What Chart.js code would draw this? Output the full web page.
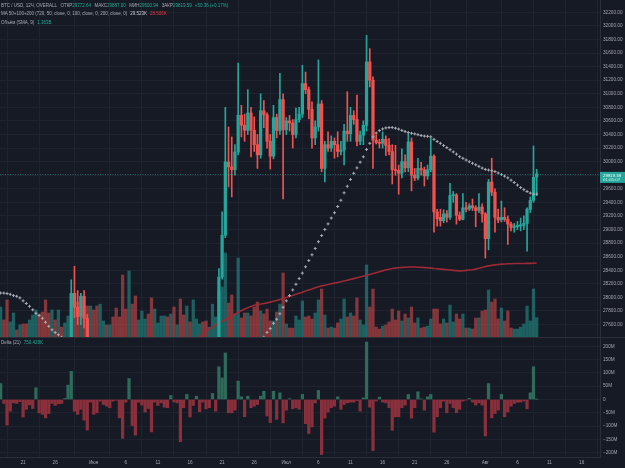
<!DOCTYPE html>
<html>
<head>
<meta charset="utf-8">
<script src="https://cdn.jsdelivr.net/npm/chart.js@4.4.0/dist/chart.umd.min.js"></script>
<style>
  html, body { margin: 0; padding: 0; background: #161a25; }
  #wrap { position: relative; width: 625px; height: 468px; overflow: hidden; }
  canvas { display: block; }
  .lg { position: absolute; left: 1px; font-family: "Liberation Sans", Arial, sans-serif; font-size: 4.5px; line-height: 6px; color: #a8abb4; white-space: nowrap; }
  .lg .k { margin-left: 3.4px; }
  .lg .s { margin-left: 3px; }
  .g { color: #22ab94; }
  .r { color: #f23645; }
  .w { color: #c9ccd4; }
</style>
</head>
<body>
<div id="wrap">
  <canvas id="btcChart" width="625" height="468"></canvas>
  <div class="lg" style="top:2.6px">BTC / USD, 12Ч, OVERALL<span class="k">ОТКР</span><span class="g" id="vO"></span><span class="k">МАКС</span><span class="g" id="vH"></span><span class="k">МИН</span><span class="g" id="vL"></span><span class="k">ЗАКР</span><span class="g" id="vC"></span><span class="g s" id="vChg"></span></div>
  <div class="lg" style="top:11.2px">MA 50+100+200 (720, 50, close, 0, 100, close, 0, 200, close, 0)<span class="w s" id="vMa50"></span><span class="r s" id="vMa200"></span></div>
  <div class="lg" style="top:19.8px">Объём (SMA, 9)<span class="g s" id="vVol"></span></div>
  <div class="lg" style="top:340px">Delta (21)<span class="g s" id="vDelta"></span></div>
</div>
<script>
// 12h candles, 17 May 12:00 .. 9 Aug 00:00
const opens = [
  27100,27390,27300,26830,26900,26950,26920,27120,27050,26750,
  26800,26850,27250,27225,26700,26330,26100,26470,26400,26720,
  26700,26870,27200,28060,27855,27720,28017,27692,27100,27220,
  26900,26820,27000,27250,27050,27100,27200,27120,26800,25760,
  25500,27240,26800,26350,26450,26500,26600,26480,25700,25850,
  25900,25940,25960,25900,26050,25920,26000,25120,24900,25580,
  25450,26340,26450,26510,26450,26340,26500,26850,27000,28300,
  28915,29995,29922,29883,30143,30683,30536,30462,30717,30462,
  30250,30100,30750,30690,30300,30080,30650,30460,30914,30470,
  30600,30570,30400,30620,30700,31150,31060,30770,30350,30510,
  30850,29900,30250,30200,30300,30250,30150,30170,30450,30410,
  30680,30620,30300,30390,30536,31469,31199,30315,30280,30270,
  30330,30240,30150,29880,29870,29830,30000,29910,30290,29800,
  29760,29900,29880,29790,29880,30080,29259,29180,29130,29230,
  29180,29500,29510,29210,29150,29320,29300,29350,29320,29280,
  29330,29230,28866,29700,29550,29180,29140,29180,29150,29080,
  29030,29040,29050,29060,29090,29300,29430,29772.64
];
const highs = [
  27400,27400,27350,27050,27100,27000,27250,27250,27100,26900,
  26950,27300,27380,27260,26780,26400,26550,26600,26800,26800,
  26950,27300,28260,28459,28100,28060,28100,27750,27300,27250,
  27000,27100,27300,27300,27200,27200,27300,27150,26850,25900,
  27350,27300,26850,26500,26700,26750,26650,26500,25900,26000,
  26150,26100,26050,26200,26400,26100,26050,25250,25700,25700,
  26450,26700,26650,26600,26550,26550,26950,27100,28425,29260,
  30800,30511,30364,30250,31450,30830,30700,31060,30800,30660,
  30400,31000,30900,30720,30400,30830,30700,31300,31000,30650,
  30680,30620,30790,30800,31420,31320,31100,30880,30600,31500,
  30900,30300,30440,30380,30350,30440,30300,30550,31030,30800,
  30750,30980,30450,30600,31860,31665,31250,30390,30330,30440,
  30380,30340,30250,30240,29950,30190,30100,30410,30350,29900,
  30050,29990,29920,29950,30340,30100,29300,29300,29290,29280,
  29680,29560,29530,29260,29530,29400,29380,29450,29350,29530,
  29380,29250,29740,30050,29600,29300,29420,29320,29200,29110,
  29090,29120,29170,29200,29320,29480,30230,29887
];
const lows = [
  27050,27150,26700,26750,26850,26800,26880,26950,26600,26650,
  26700,26800,27100,26600,26250,25870,26050,26300,26350,26600,
  26650,26850,27150,27700,27600,27600,27550,26950,26900,26700,
  26620,26780,26950,27000,27000,26950,27000,26700,25650,25400,
  25450,26700,26150,26250,26350,26400,26300,25400,25550,25700,
  25800,25850,25700,25850,25800,25850,24900,24800,24850,25350,
  25400,26300,26400,26350,26250,26300,26450,26700,26950,28270,
  28880,29627,29480,29800,30100,30364,30300,30400,30070,30150,
  29900,30050,30500,30200,29890,30040,30350,30400,29450,30400,
  30450,30200,30350,30580,30650,31000,30630,30200,30250,30450,
  29850,29700,30150,30150,30050,30070,30100,29950,30300,30300,
  30550,30230,30250,30250,30450,31100,29900,30260,30200,30200,
  30090,30100,29670,29800,29520,29760,29850,29850,29570,29720,
  29730,29800,29640,29740,29850,28960,29050,29050,29100,29110,
  29150,29400,29080,29130,29140,29260,29280,29280,29040,29250,
  29110,28580,28700,29500,28960,29100,29110,29120,28780,28980,
  28960,29000,28980,29000,28680,29250,29400,29500.94
];
const closes = [
  27390,27300,26830,26900,26950,26920,27120,27050,26750,26800,
  26850,27250,27225,26700,26330,26100,26470,26400,26720,26700,
  26870,27200,28060,27855,27720,28017,27692,27100,27220,26800,
  26820,27000,27250,27100,27100,27050,27120,26800,25760,25500,
  27240,26800,26350,26450,26500,26600,26480,25700,25850,25900,
  25940,25960,25900,26050,25920,26000,25120,24900,25580,25450,
  26340,26600,26510,26450,26340,26500,26850,27000,28300,28915,
  29995,29922,29883,30143,30683,30536,30462,30717,30462,30250,
  30100,30750,30690,30300,30080,30650,30460,30914,30470,30600,
  30570,30400,30620,30700,31150,31060,30770,30350,30510,30850,
  29900,30250,30200,30300,30250,30150,30170,30450,30410,30680,
  30620,30300,30390,30536,31469,31199,30315,30280,30270,30330,
  30240,30150,29880,29870,29830,30000,29910,30290,29800,29760,
  29900,29880,29790,29880,30080,29259,29160,29130,29230,29180,
  29500,29510,29210,29150,29320,29300,29350,29320,29280,29330,
  29230,28866,29700,29550,29180,29140,29180,29150,29080,29030,
  29050,29060,29070,29090,29300,29430,29769.23,29819.59
];
// volume, billions
const volumes = [
  2.11,1.20,2.61,1.06,1.69,0.49,0.85,0.92,0.92,1.20,
  1.55,1.90,1.62,1.76,2.61,1.69,1.90,1.20,1.90,0.70,
  0.99,1.48,3.03,3.03,2.46,2.89,2.18,2.18,2.18,1.90,
  2.18,2.32,1.13,0.85,0.85,1.41,2.04,1.41,4.37,1.97,
  4.65,2.32,2.89,1.20,1.83,1.27,1.62,2.75,1.97,0.99,
  1.48,1.48,1.41,1.62,2.11,0.85,2.68,1.55,2.18,1.06,
  2.61,1.27,0.92,1.06,1.13,0.70,2.32,1.41,3.24,3.52,
  5.92,2.39,2.96,1.62,5.56,1.34,1.69,1.69,1.48,2.11,
  2.46,1.83,1.62,1.97,1.13,1.13,1.76,2.32,4.51,0.92,
  0.63,0.63,1.48,1.20,2.54,1.41,1.48,1.27,1.69,2.61,
  3.38,1.55,0.63,0.70,0.63,0.99,1.27,2.68,1.41,1.69,
  1.48,2.75,1.20,0.85,5.07,2.11,3.38,0.70,0.56,0.77,
  0.85,1.06,1.97,1.20,1.83,1.13,1.62,1.34,2.11,0.99,
  1.34,0.63,0.70,0.77,1.27,1.97,1.97,0.92,1.27,0.99,
  2.25,1.06,1.62,1.27,1.62,0.63,0.63,0.56,1.34,1.34,
  1.83,1.90,3.31,2.46,2.68,1.27,2.04,1.13,1.83,0.63,
  0.56,0.56,0.70,0.92,2.18,1.13,3.38,1.363
];
// delta, millions
const deltas = [
  60,-15,-96,-44,-12.5,-15,-8,-66,-37,-20,
  -34,44,-50,-56,-69,-53,-15,-22.5,-16,-15,
  4,54,106,-44,-56,-37,-78,-115,-10,-56,
  -50,-6,-19,-25,-31,-6,-3,-69,-146,-10,
  79,-98,-134,-10,-21,-47,-34,-122,-10,-22.5,
  -12.5,-29,-31,15,-9,-12.5,-159,-31,19,-66,
  -22.5,12.5,-46,-10,-35,-31,22.5,-44,123,81,
  175,-50,-50,-40,69,10,-65,12.5,-31,-25,
  -19,12.5,31,-62,-87,31,-75,25,-88,-40,
  3,-35,-31,-37,19,-91,-128,-103,-12.5,34,
  -207,-70,-47,-31,-25,10,-37,-19,-12.5,-10,
  -10,-4,-44,6,216,-29,-192,-6,9,-10,
  -12.5,-31,-116,-65,-65,-31,-21,19,-70,-31,
  29,2.5,-40,10,19,-123,-65,-31,-6,-50,
  -15,-31,-50,-37,-6,-2.5,4,-10,-21,-12.5,
  -21,-137,60,-69,-53,-40,19,-65,-47,-25,
  -15,-10,-10,-6,-35,25,123,0.750428
];
const ma50 = [
  28065,28064,28057,28046,28027,28017,27993,27950,27911,27869,
  27818,27766,27734,27693,27634,27575,27523,27483,27450,27413,
  27380,27345,27310,27280,27250,27215,27185,27150,27120,27090,
  27060,27030,27000,26975,26945,26915,26890,26860,26830,26800,
  26780,26755,26735,26715,26695,26675,26655,26635,26615,26600,
  26590,26580,26570,26560,26550,26540,26530,26520,26510,26505,
  26500,26500,26510,26520,26530,26540,26560,26585,26620,26670,
  26730,26790,26850,26910,26970,27030,27090,27150,27210,27270,
  27330,27380,27413,27486,27541,27619,27678,27759,27855,27950,
  28027,28110,28194,28277,28358,28451,28543,28628,28721,28821,
  28911,29001,29083,29169,29247,29339,29431,29541,29637,29737,
  29828,29908,29992,30071,30179,30270,30365,30421,30457,30482,
  30497,30502,30502,30493,30480,30460,30444,30429,30418,30409,
  30397,30385,30376,30373,30366,30329,30297,30270,30238,30206,
  30176,30144,30110,30073,30049,30024,29999,29976,29954,29930,
  29905,29886,29876,29867,29854,29833,29811,29787,29761,29727,
  29693,29655,29618,29587,29560,29537,29522,29523
];
const ma200 = [
  26690,26700,26712,26722,26731,26742,26751,26760,26771,26780,
  26790,26800,26811,26820,26830,26841,26850,26860,26871,26880,
  26890,26902,26912,26922,26933,26944,26955,26966,26978,26990,
  27002,27014,27026,27038,27050,27062,27074,27086,27098,27110,
  27121,27133,27145,27157,27169,27181,27193,27205,27218,27231,
  27244,27257,27270,27283,27296,27309,27323,27337,27351,27366,
  27381,27398,27418,27466,27509,27535,27563,27593,27626,27650,
  27674,27701,27725,27751,27778,27805,27828,27847,27868,27886,
  27895,27902,27911,27920,27931,27943,27956,27970,27983,27999,
  28014,28029,28046,28061,28076,28093,28108,28124,28141,28157,
  28170,28180,28191,28201,28211,28220,28230,28242,28254,28266,
  28277,28289,28301,28313,28326,28338,28351,28364,28378,28391,
  28406,28416,28425,28432,28438,28442,28445,28447,28448,28448,
  28445,28442,28439,28436,28432,28426,28422,28417,28413,28408,
  28404,28399,28395,28391,28392,28398,28403,28408,28417,28429,
  28441,28454,28465,28472,28480,28485,28490,28493,28496,28497,
  28499,28499,28500,28500,28502,28502,28503,28506
];

const xLabels = ["21","26","Июн","6","11","16","21","26","Июл","6","11","16","21","26","Авг","6","11","16"];
const xLabelIdx = [7,17,29,39,49,59,69,79,89,99,109,119,129,139,151,161,171,181];
const priceTicks = [27600,27800,28000,28200,28400,28600,28800,29000,29200,29400,29600,29800,30000,30200,30400,30600,30800,31000,31200,31400,31600,31800,32000,32200];
const deltaTicks = [-200,-150,-100,-50,0,50,100,150,200];
const countdown = "01:05:07";

const upColor = "#26a69a";
const downColor = "#ef5350";
const gridColor = "#1f2330";
const lineColor = "#2a2e39";

const last = closes.length - 1;
const isUp = closes.map((c, k) => c >= opens[k]);

Chart.defaults.font.family = '"Liberation Sans", Arial, sans-serif';
Chart.defaults.font.size = 4.7;
Chart.defaults.color = "#a3a6af";

// keep each dataset inside its own pane
const paneClip = {
  id: "paneClip",
  beforeDatasetDraw(chart, args) {
    const pane = args.meta.yAxisID === "yd" ? chart.scales.yd : chart.scales.y;
    const a = chart.chartArea;
    chart.ctx.save();
    chart.ctx.beginPath();
    chart.ctx.rect(a.left, pane.top, a.right - a.left, pane.bottom - pane.top);
    chart.ctx.clip();
  },
  afterDatasetDraw(chart) {
    chart.ctx.restore();
  }
};

const paneDecor = {
  id: "paneDecor",
  beforeDraw(chart) {
    const c = chart.ctx;
    c.save();
    c.fillStyle = "#161a25";
    c.fillRect(0, 0, chart.width, chart.height);
    c.restore();
  },
  afterDatasetsDraw(chart) {
    const c = chart.ctx;
    const a = chart.chartArea;
    const yp = Math.round(chart.scales.y.getPixelForValue(closes[last])) + 0.5;
    c.save();
    c.strokeStyle = "rgba(38,166,154,0.55)";
    c.lineWidth = 1;
    c.setLineDash([1, 1.5]);
    c.beginPath();
    c.moveTo(a.left, yp);
    c.lineTo(a.right, yp);
    c.stroke();
    c.restore();
  },
  afterDraw(chart) {
    const c = chart.ctx;
    const a = chart.chartArea;
    const sep = Math.round(chart.scales.yd.top) + 0.5;
    c.save();
    c.strokeStyle = lineColor;
    c.lineWidth = 1;
    c.beginPath();
    c.moveTo(0, sep);
    c.lineTo(chart.width, sep);
    c.stroke();
    // last price tag
    const yp = chart.scales.y.getPixelForValue(closes[last]);
    c.fillStyle = upColor;
    c.fillRect(a.right, yp - 2, chart.width - a.right, 11);
    c.fillStyle = "#ffffff";
    c.font = '4.4px "Liberation Sans", Arial, sans-serif';
    c.textBaseline = "middle";
    c.textAlign = "left";
    c.fillText(closes[last].toFixed(2), a.right + 3, yp + 1.6);
    c.fillStyle = "#d8f0ec";
    c.fillText(countdown, a.right + 3, yp + 6.3);
    c.restore();
  }
};

const noPadV = s => { s.width = 25; s.paddingTop = 0; s.paddingBottom = 0; };

const ctx = document.getElementById("btcChart").getContext("2d");
const btcChart = new Chart(ctx, {
  type: "bar",
  data: {
    datasets: [
      {
        label: "Объём",
        yAxisID: "yv",
        data: volumes.map((v, k) => ({ x: k, y: v })),
        backgroundColor: isUp.map(u => u ? "rgba(38,166,154,0.5)" : "rgba(239,83,80,0.5)"),
        barThickness: 2.6,
        grouped: false,
        order: 6
      },
      {
        type: "line",
        label: "MA 200",
        yAxisID: "y",
        data: ma200.map((v, k) => ({ x: k, y: v })),
        borderColor: "#9c2a36",
        borderWidth: 1.6,
        pointRadius: 0,
        tension: 0,
        order: 5
      },
      {
        label: "wick",
        yAxisID: "y",
        data: lows.map((l, k) => ({ x: k, y: [l, highs[k]] })),
        backgroundColor: isUp.map(u => u ? upColor : downColor),
        barThickness: 1,
        grouped: false,
        order: 4
      },
      {
        label: "BTC / USD",
        yAxisID: "y",
        data: opens.map((o, k) => ({ x: k, y: [o, closes[k]] })),
        backgroundColor: isUp.map(u => u ? upColor : downColor),
        barThickness: 2.6,
        minBarLength: 1,
        grouped: false,
        order: 3
      },
      {
        type: "line",
        label: "MA 50",
        yAxisID: "y",
        data: ma50.map((v, k) => ({ x: k, y: v })),
        showLine: false,
        pointStyle: "cross",
        pointRadius: 1.5,
        pointBorderWidth: 1,
        pointBorderColor: "#a9acb5",
        pointBackgroundColor: "#a9acb5",
        order: 2
      },
      {
        label: "Delta",
        yAxisID: "yd",
        data: deltas.map((d, k) => ({ x: k, y: d })),
        backgroundColor: deltas.map(d => d >= 0 ? "#2e6b5a" : "#8a2f3c"),
        barThickness: 2.6,
        grouped: false,
        order: 6
      }
    ]
  },
  options: {
    responsive: false,
    animation: false,
    events: [],
    layout: { padding: 0, autoPadding: false },
    plugins: {
      legend: { display: false },
      tooltip: { enabled: false }
    },
    scales: {
      x: {
        type: "linear",
        position: "bottom",
        offset: false,
        min: -0.196,
        max: 186.72,
        grid: { color: gridColor, drawTicks: false },
        border: { color: lineColor },
        afterBuildTicks: s => { s.ticks = xLabelIdx.map(v => ({ value: v })); },
        afterFit: s => { s.height = 11; s.paddingLeft = 0; s.paddingRight = 0; },
        ticks: {
          autoSkip: false,
          maxRotation: 0,
          padding: 2.5,
          callback: (v, i) => xLabels[i]
        }
      },
      y: {
        type: "linear",
        position: "right",
        stack: "panes",
        stackWeight: 337,
        min: 27417,
        max: 32381,
        grid: { color: gridColor, drawTicks: false },
        border: { color: lineColor },
        afterBuildTicks: s => { s.ticks = priceTicks.map(v => ({ value: v })); },
        afterFit: noPadV,
        ticks: { autoSkip: false, padding: 3, callback: v => v.toFixed(2) }
      },
      yd: {
        type: "linear",
        position: "right",
        stack: "panes",
        stackWeight: 120,
        min: -216.2,
        max: 235,
        grid: { color: gridColor, drawTicks: false },
        border: { color: lineColor },
        afterBuildTicks: s => { s.ticks = deltaTicks.map(v => ({ value: v })); },
        afterFit: noPadV,
        ticks: {
          autoSkip: false,
          padding: 3,
          callback: v => v === 0 ? "0" : (v < 0 ? "\u2212" + Math.abs(v) : v) + "M"
        }
      },
      yv: {
        type: "linear",
        display: false,
        min: -8.45,
        max: 23.73
      }
    }
  },
  plugins: [paneClip, paneDecor]
});

// legend values
const chg = closes[last] - closes[last - 1];
document.getElementById("vO").textContent = opens[last].toFixed(2);
document.getElementById("vH").textContent = highs[last].toFixed(2);
document.getElementById("vL").textContent = lows[last].toFixed(2);
document.getElementById("vC").textContent = closes[last].toFixed(2);
document.getElementById("vChg").textContent = (chg >= 0 ? "+" : "") + chg.toFixed(2) + " (" + (chg >= 0 ? "+" : "") + (chg / closes[last - 1] * 100).toFixed(2) + "%)";
document.getElementById("vMa50").textContent = (ma50[last] / 1000).toFixed(3) + "K";
document.getElementById("vMa200").textContent = (ma200[last] / 1000).toFixed(3) + "K";
document.getElementById("vVol").textContent = volumes[last].toFixed(3) + "B";
document.getElementById("vDelta").textContent = (deltas[last] * 1000).toFixed(3) + "K";
</script>
</body>
</html>
